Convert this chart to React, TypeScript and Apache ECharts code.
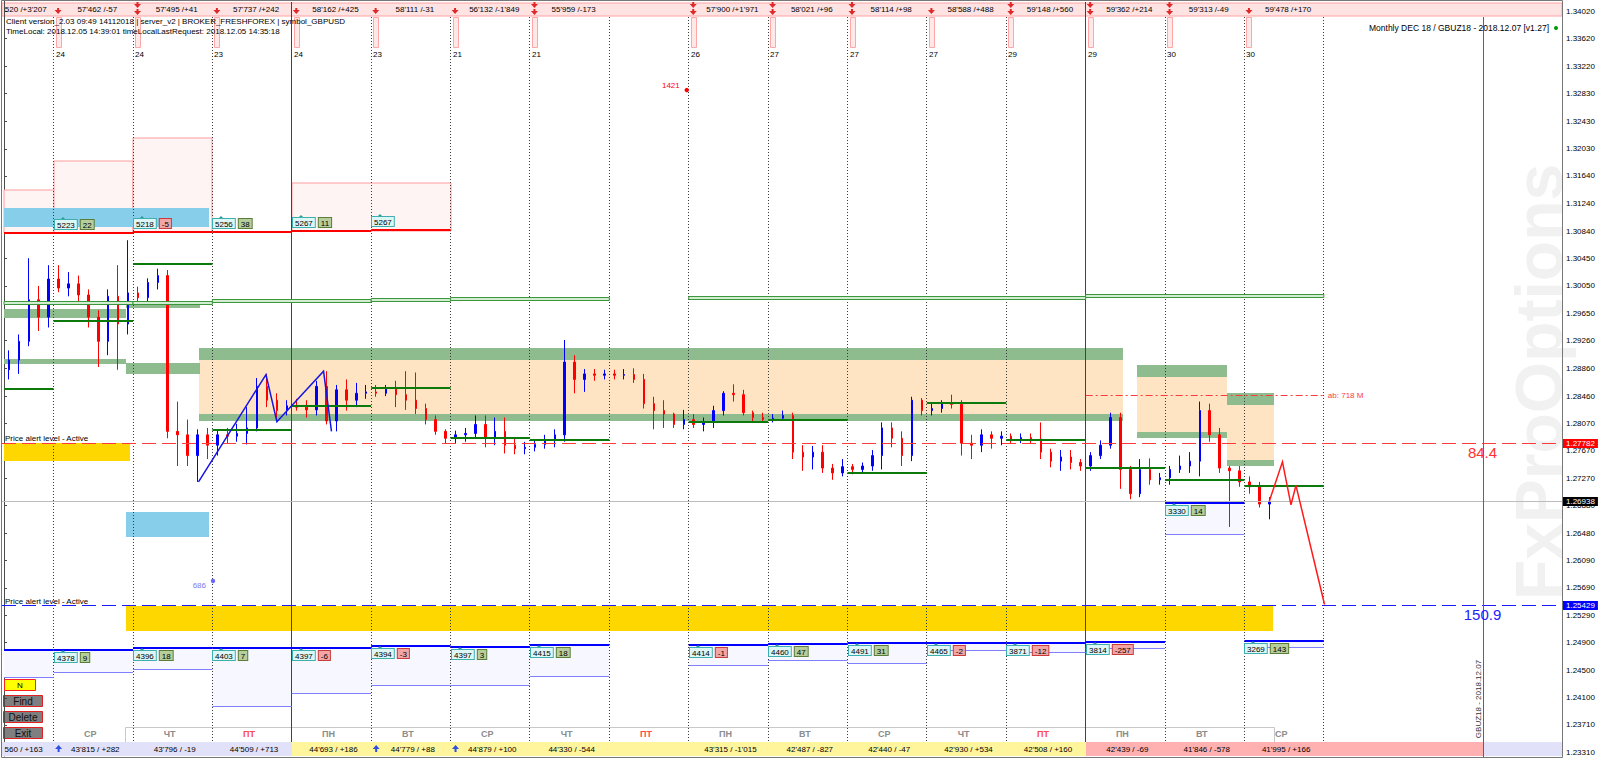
import React, { useEffect, useRef } from "react";
import * as echarts from "echarts";

const FONT = '"Liberation Sans", Arial, sans-serif';

// ---------- axes ----------
const SLOT_COUNT = 157; // 3-hour slots, 8 per trading day
const SLOTS_PER_DAY = 8;
const FIRST_SEPARATOR_SLOT = 5;
const SEPARATOR_COUNT = 17;
const PRICE_MIN = 1.23262;
const PRICE_MAX = 1.34165;

const priceTicks = [
  1.3402, 1.3362, 1.3322, 1.3283, 1.3243, 1.3203, 1.3164, 1.3124, 1.3084, 1.3045, 1.3005, 1.2965, 1.2926, 1.2886,
  1.2846, 1.2807, 1.2767, 1.2727, 1.2688, 1.2648, 1.2609, 1.2569, 1.2529, 1.249, 1.245, 1.241, 1.2371, 1.2331,
];

// ---------- candles: [open, close, low, high] per 3h slot ----------
const candles = [
  [1.2884, 1.2898, 1.287, 1.2912], [1.2898, 1.2925, 1.2878, 1.2935], [1.2925, 1.2985, 1.2918, 1.3045],
  [1.2985, 1.296, 1.294, 1.3005], [1.296, 1.3015, 1.2945, 1.3035], [1.3015, 1.3002, 1.2996, 1.3035],
  [1.3002, 1.3008, 1.299, 1.3025], [1.3008, 1.2992, 1.298, 1.302], [1.2992, 1.296, 1.2945, 1.3],
  [1.296, 1.2925, 1.2888, 1.297], [1.2925, 1.299, 1.2905, 1.3], [1.299, 1.295, 1.2884, 1.3035],
  [1.295, 1.2995, 1.2935, 1.3071], [1.2995, 1.2988, 1.298, 1.3004], [1.2988, 1.301, 1.2982, 1.3016],
  [1.301, 1.302, 1.3, 1.303], [1.302, 1.2795, 1.2785, 1.3028], [1.2795, 1.279, 1.2745, 1.2838],
  [1.279, 1.276, 1.2745, 1.2812], [1.276, 1.279, 1.2722, 1.2798], [1.279, 1.2775, 1.2755, 1.28],
  [1.2775, 1.279, 1.276, 1.2798], [1.279, 1.2788, 1.2778, 1.28], [1.2788, 1.2792, 1.278, 1.2806],
  [1.2792, 1.28, 1.2776, 1.283], [1.28, 1.286, 1.2795, 1.2872], [1.286, 1.284, 1.283, 1.2878],
  [1.284, 1.2825, 1.281, 1.285], [1.2825, 1.2832, 1.2818, 1.284], [1.2832, 1.283, 1.2825, 1.2842],
  [1.283, 1.2826, 1.2815, 1.284], [1.2826, 1.286, 1.2818, 1.2868], [1.286, 1.281, 1.2805, 1.2882],
  [1.281, 1.2855, 1.2795, 1.2862], [1.2855, 1.284, 1.2825, 1.287], [1.284, 1.285, 1.283, 1.2865],
  [1.285, 1.2852, 1.2842, 1.2862], [1.2852, 1.285, 1.2845, 1.2862], [1.285, 1.2856, 1.2846, 1.2862],
  [1.2856, 1.2848, 1.283, 1.2868], [1.2848, 1.284, 1.2826, 1.2882], [1.284, 1.2828, 1.282, 1.288],
  [1.2828, 1.2812, 1.2805, 1.2835], [1.2812, 1.2795, 1.279, 1.2818], [1.2795, 1.2785, 1.2778, 1.2798],
  [1.2785, 1.279, 1.2778, 1.2796], [1.279, 1.2792, 1.278, 1.28], [1.2792, 1.2805, 1.2785, 1.2818],
  [1.2805, 1.2785, 1.2772, 1.2818], [1.2785, 1.2795, 1.2775, 1.2815], [1.2795, 1.2775, 1.2763, 1.2815],
  [1.2775, 1.277, 1.2762, 1.2785], [1.277, 1.2772, 1.2762, 1.278], [1.2772, 1.2776, 1.2766, 1.2782],
  [1.2776, 1.2782, 1.277, 1.279], [1.2782, 1.279, 1.2772, 1.2798], [1.279, 1.2895, 1.278, 1.2927],
  [1.2895, 1.287, 1.285, 1.2905], [1.287, 1.2878, 1.2852, 1.2885], [1.2878, 1.2876, 1.2868, 1.2885],
  [1.2876, 1.2878, 1.287, 1.2884], [1.2878, 1.2876, 1.287, 1.2884], [1.2876, 1.2877, 1.287, 1.2885],
  [1.2877, 1.287, 1.2865, 1.2886], [1.287, 1.2835, 1.2828, 1.2878], [1.2835, 1.2825, 1.2798, 1.2845],
  [1.2825, 1.282, 1.28, 1.284], [1.282, 1.2805, 1.28, 1.2822], [1.2805, 1.2812, 1.2798, 1.2826],
  [1.2812, 1.2805, 1.28, 1.282], [1.2805, 1.2808, 1.2795, 1.2815], [1.2808, 1.2825, 1.28, 1.2832],
  [1.2825, 1.285, 1.2818, 1.2853], [1.285, 1.2848, 1.2838, 1.2863], [1.2848, 1.2822, 1.2818, 1.2855],
  [1.2822, 1.2815, 1.2808, 1.2825], [1.2815, 1.2812, 1.2808, 1.2822], [1.2812, 1.2814, 1.2808, 1.282],
  [1.2814, 1.2818, 1.281, 1.2825], [1.2818, 1.2765, 1.2755, 1.2822], [1.2765, 1.2758, 1.2738, 1.2775],
  [1.2758, 1.2765, 1.274, 1.2774], [1.2765, 1.2742, 1.2735, 1.2775], [1.2742, 1.2735, 1.2725, 1.2748],
  [1.2735, 1.2744, 1.273, 1.2755], [1.2744, 1.274, 1.2733, 1.2748], [1.274, 1.2745, 1.2735, 1.275],
  [1.2745, 1.276, 1.2738, 1.2768], [1.276, 1.28, 1.274, 1.2808], [1.28, 1.2785, 1.2772, 1.2808],
  [1.2785, 1.276, 1.2745, 1.2795], [1.276, 1.284, 1.2752, 1.2845], [1.284, 1.2825, 1.2818, 1.2843],
  [1.2825, 1.2828, 1.2818, 1.2835], [1.2828, 1.2836, 1.2822, 1.284], [1.2836, 1.2834, 1.2828, 1.2848],
  [1.2834, 1.2778, 1.276, 1.284], [1.2778, 1.2775, 1.2755, 1.279], [1.2775, 1.279, 1.2765, 1.2798],
  [1.279, 1.2785, 1.277, 1.2795], [1.2785, 1.2788, 1.2775, 1.2795], [1.2788, 1.2783, 1.2778, 1.2792],
  [1.2783, 1.2786, 1.2778, 1.2792], [1.2786, 1.2784, 1.2778, 1.2792], [1.2784, 1.2765, 1.2755, 1.2808],
  [1.2765, 1.2752, 1.2743, 1.277], [1.2752, 1.2758, 1.2738, 1.2768], [1.2758, 1.275, 1.274, 1.2768],
  [1.275, 1.2745, 1.2738, 1.2755], [1.2745, 1.276, 1.2738, 1.2765], [1.276, 1.2775, 1.2755, 1.2782],
  [1.2775, 1.2815, 1.277, 1.2822], [1.2815, 1.274, 1.2712, 1.2822], [1.274, 1.2705, 1.2697, 1.2745],
  [1.2705, 1.274, 1.27, 1.2755], [1.274, 1.2725, 1.2718, 1.2756], [1.2725, 1.2728, 1.2718, 1.2735],
  [1.2728, 1.274, 1.2718, 1.2745], [1.274, 1.2745, 1.2735, 1.276], [1.2745, 1.2752, 1.2735, 1.2765],
  [1.2752, 1.2825, 1.273, 1.2838], [1.2825, 1.279, 1.278, 1.2835], [1.279, 1.2742, 1.2735, 1.28],
  [1.2742, 1.2738, 1.2657, 1.2745], [1.2738, 1.2722, 1.2715, 1.2745], [1.2722, 1.2715, 1.2705, 1.273],
  [1.2715, 1.269, 1.2685, 1.2722], [1.269, 1.26938, 1.2668, 1.27],
];

// ---------- day annotations (index 0 = partial day before first separator) ----------
const weekdays = ["СР", "ЧТ", "ПТ", "ПН", "ВТ", "СР", "ЧТ", "ПТ", "ПН", "ВТ", "СР", "ЧТ", "ПТ", "ПН", "ВТ", "СР"];
const topDayStats = [
  "520 /+3'207", "57'462 /-57", "57'495 /+41", "57'737 /+242", "58'162 /+425", "58'111 /-31", "56'132 /-1'849",
  "55'959 /-173", "", "57'900 /+1'971", "58'021 /+96", "58'114 /+98", "58'588 /+488", "59'148 /+560",
  "59'362 /+214", "59'313 /-49", "59'478 /+170",
];
const bottomDayStats = [
  "560 / +163", "43'815 / +282", "43'796 / -19", "44'509 / +713", "44'693 / +186", "44'779 / +88",
  "44'879 / +100", "44'330 / -544", "", "43'315 / -1'015", "42'487 / -827", "42'440 / -47", "42'930 / +534",
  "42'508 / +160", "42'439 / -69", "41'846 / -578", "41'995 / +166",
];
const dayCounters = ["24", "24", "23", "24", "23", "21", "21", "", "26", "27", "27", "27", "29", "29", "30", "30"];
const topMarkerCounts = [1, 2, 1, 1, 1, 1, 2, 0, 2, 2, 2, 1, 2, 2, 2, 1];
const bottomMarkerDays = [0, 4, 5];
const weekStartSeparators = [3, 13];

// ---------- levels: [fromSlot, toSlot, price] ----------
const supportLevels = [
  [0, 5, 1.28562], [5, 13, 1.29544], [13, 21, 1.30367], [21, 29, 1.2797], [29, 37, 1.28317], [37, 45, 1.28576],
  [45, 53, 1.27854], [53, 61, 1.27825], [69, 77, 1.28085], [77, 85, 1.28114], [85, 93, 1.27349],
  [93, 101, 1.2836], [101, 109, 1.27825], [109, 117, 1.27421], [117, 125, 1.27248], [125, 133, 1.27161],
];
const pivotBands = [
  [0, 13, 1.29808], [13, 21, 1.29818], [21, 37, 1.29837], [37, 45, 1.29857], [45, 61, 1.29869],
  [69, 109, 1.2989], [109, 133, 1.29919],
];
const resistanceLevels = [[0, 13, 1.3081], [13, 21, 1.30825], [21, 29, 1.30833], [29, 37, 1.30848], [37, 45, 1.30858]];
// [fromSlot, toSlot, topPrice, bottomPrice]
const resistanceBoxes = [
  [0, 5, 1.31435, 1.3081], [5, 13, 1.31854, 1.3081], [13, 21, 1.32186, 1.30825], [29, 45, 1.31537, 1.30848],
];
const resistanceTagA = ["5223", "5218", "5256", "5267", "5267"];
const resistanceTagB = ["22", "-5", "38", "11", ""];

const zoneBodies = [
  [19.65, 112.76, 1.28981, 1.28201], [114.17, 123.24, 1.28735, 1.27941], [123.24, 127.93, 1.28331, 1.27537],
];
const zoneEdges = [
  [19.65, 112.76, 1.29154, 1.28981], [19.65, 112.76, 1.28201, 1.281],
  [114.17, 123.24, 1.28908, 1.28735], [114.17, 123.24, 1.27941, 1.27854],
  [123.24, 127.93, 1.28504, 1.28331], [123.24, 127.93, 1.27537, 1.2745],
  [0, 12.29, 1.29717, 1.29587], [12.29, 19.75, 1.29804, 1.29731],
  [0, 12.29, 1.28995, 1.28923], [12.29, 19.75, 1.28937, 1.28778],
];
const skyBoxes = [[0, 20.66, 1.31176, 1.30901], [12.29, 20.66, 1.26786, 1.26425]];
const goldBoxes = [[0, 12.7, 1.27782, 1.27522], [12.29, 127.9, 1.25429, 1.2507]];

// volume blocks per day (index 0 = partial day)
const volumeTop = [1.24793, 1.24793, 1.24822, 1.24826, 1.24826, 1.24851, 1.24832, 1.24865, null, 1.24865, 1.2488, 1.2489, 1.24898, 1.24898, 1.24908, 1.2692, 1.24923];
const volumeBottom = [1.24389, 1.24461, 1.24518, 1.2397, 1.24158, 1.24287, 1.24273, 1.24403, null, 1.24562, 1.24648, 1.24605, 1.24783, 1.2475, 1.24808, 1.26454, 1.24826];
const volumeTagA = [null, "4378", "4396", "4403", "4397", "4394", "4397", "4415", null, "4414", "4460", "4491", "4465", "3871", "3814", "3330", "3269"];
const volumeTagB = [null, "9", "18", "7", "-6", "-3", "3", "18", null, "-1", "47", "31", "-2", "-12", "-257", "14", "143"];

const zigzagPoints = [[19.6, 1.2722], [26.4, 1.2877], [27.5, 1.2809], [32.2, 1.2882], [33.0, 1.2795]];
const projectionPoints = [[127.5, 1.26938], [128.83, 1.2751], [129.69, 1.2689], [130.19, 1.2717], [133.07, 1.2545]];
const abLevel = [109, 133, 1.28465];
const alertHigh = 1.27782;
const alertLow = 1.25429;
const bidPrice = 1.26938;
const expirySlot = 149.1;
const mark1421 = [68.8, 1.32879];
const mark686 = [21.06, 1.25789];
const bottomBarSegments = [[0, 29], [29, 109], [109, 149.1], [149.1, 157]];

// ---------- helpers ----------
const sepSlot = (k: number) => FIRST_SEPARATOR_SLOT + SLOTS_PER_DAY * k;
const dayRange = (i: number) => [Math.max(0, sepSlot(i - 1)), sepSlot(i)]; // i = index into per-day arrays

const TAG = {
  cyan: ["#DDF6F6", "#3FAEAE"],
  green: ["#B7CE9C", "#5A7D3A"],
  red: ["#F3A5A5", "#C63C3C"],
};

function txt(x: number, y: number, text: string, o: any = {}) {
  const align = o.align || "left";
  const va = o.va || "middle";
  return {
    type: "text",
    x,
    y,
    rotation: o.rotation || 0,
    z2: o.z2 || 10,
    style: {
      text,
      font: o.font || `8px ${FONT}`,
      fill: o.fill || "#000",
      align,
      verticalAlign: va,
      textAlign: align,
      textVerticalAlign: va,
      backgroundColor: o.bg,
      borderColor: o.bd,
      borderWidth: o.bd ? 1 : 0,
      padding: o.padding,
    },
  };
}

function buildOption() {
  const background = {
    type: "custom",
    xAxisIndex: 1,
    yAxisIndex: 0,
    z: 1,
    silent: true,
    clip: false,
    data: [[0, 1.3]],
    renderItem: (_p: any, api: any) => {
      const P = (s: number, p: number) => api.coord([s, p]);
      const box = (s1: number, s2: number, p1: number, p2: number, style: any) => {
        const a = P(s1, p1);
        const b = P(s2, p2);
        const x = Math.round(a[0]);
        const y = Math.round(a[1]);
        return { type: "rect", shape: { x, y, width: Math.round(b[0]) - x, height: Math.round(b[1]) - y }, style };
      };
      const ch: any[] = [];
      resistanceBoxes.forEach(([s1, s2, t, b]) =>
        ch.push(box(s1, s2, t, b, { fill: "#FFF4F4", stroke: "#FF9C9C", lineWidth: 1 }))
      );
      skyBoxes.forEach(([s1, s2, t, b]) => ch.push(box(s1, s2, t, b, { fill: "#87CEEB" })));
      zoneBodies.forEach(([s1, s2, t, b]) => ch.push(box(s1, s2, t, b, { fill: "#FFE4C4" })));
      zoneEdges.forEach(([s1, s2, t, b]) => ch.push(box(s1, s2, t, b, { fill: "#8FBC8F" })));
      goldBoxes.forEach(([s1, s2, t, b]) => ch.push(box(s1, s2, t, b, { fill: "#FFD700" })));
      volumeTop.forEach((t, i) => {
        if (t == null) return;
        const [s1, s2] = dayRange(i);
        ch.push(box(s1, s2, t, volumeBottom[i] as number, { fill: "#F7F7FF" }));
      });
      // bottom status bar
      const barColors = ["#E1E1F9", "#FFF59D", "#FFB0B0", "#E1E1F9"];
      bottomBarSegments.forEach(([s1, s2], i) => {
        const x1 = i === 0 ? 2 : Math.round(P(s1, 1.3)[0]);
        const x2 = Math.round(P(s2, 1.3)[0]);
        ch.push({ type: "rect", shape: { x: x1, y: 742, width: x2 - x1, height: 14 }, style: { fill: barColors[i] } });
      });
      return { type: "group", children: ch };
    },
  };

  const foreground = {
    type: "custom",
    xAxisIndex: 1,
    yAxisIndex: 0,
    z: 3,
    silent: true,
    clip: false,
    data: [[0, 1.3]],
    renderItem: (_p: any, api: any) => {
      const P = (s: number, p: number) => api.coord([s, p]);
      const X = (s: number) => api.coord([s, 1.3])[0];
      const Y = (p: number) => api.coord([0, p])[1];
      const c1 = (v: number) => Math.round(v - 0.5) + 0.5;
      const ch: any[] = [];
      const line = (x1: number, y1: number, x2: number, y2: number, stroke: string, lw = 1, dash?: number[]) =>
        ch.push({ type: "line", shape: { x1, y1, x2, y2 }, style: { stroke, lineWidth: lw, lineDash: dash } });
      const tag = (x: number, y: number, t: string, kind: "cyan" | "green" | "red") => {
        const [bg, bd] = TAG[kind];
        ch.push(txt(x, y, t, { va: "top", bg, bd, padding: [1, 2, 0, 2] }));
        return t.length * 4.45 + 6;
      };
      const tagPair = (x: number, y: number, a: string, b: string) => {
        ch.push({ type: "polygon", shape: { points: [[x + 5, y], [x + 8, y - 3], [x + 11, y]] }, style: { fill: "#2A9A9A" } });
        const w = tag(x, y, a, "cyan");
        if (b) tag(x + w + 2, y, b, b.startsWith("-") ? "red" : "green");
      };

      // day separators
      for (let k = 0; k < SEPARATOR_COUNT; k++) {
        const x = c1(X(sepSlot(k)));
        if (weekStartSeparators.includes(k)) line(x, 2, x, 742, "#2B2BFF", 1);
        else line(x, 17, x, 742, "#3A3A3A", 1, [1, 2]);
      }

      // pivot double bands
      pivotBands.forEach(([s1, s2, p]) => {
        const y = c1(Y(p));
        ch.push({ type: "rect", shape: { x: X(s1), y: y - 1, width: X(s2) - X(s1), height: 3 }, style: { fill: "#D2EDD2", stroke: "#3C963C", lineWidth: 1 } });
      });
      // support levels
      supportLevels.forEach(([s1, s2, p]) => {
        const y = Math.round(Y(p));
        line(X(s1), y, X(s2), y, "#0B7A0B", 2);
      });
      // resistance line + tags
      resistanceLevels.forEach(([s1, s2, p]) => {
        const y = Math.round(Y(p));
        line(X(s1), y, X(s2), y, "#FF0000", 2);
      });
      resistanceTagA.forEach((a, k) => {
        const x = Math.round(X(sepSlot(k))) + 1;
        const y = Math.round(Y(resistanceLevels.find((r) => sepSlot(k) >= r[0] && sepSlot(k) < r[1])![2])) - 13;
        tagPair(x, y, a, resistanceTagB[k]);
      });

      // volume blocks
      volumeTop.forEach((t, i) => {
        if (t == null) return;
        const [s1, s2] = dayRange(i);
        const yT = Math.round(Y(t));
        const yB = c1(Y(volumeBottom[i] as number));
        line(X(s1), yT, X(s2), yT, "#0000FF", 2);
        line(X(s1), yB, X(s2), yB, "#8080FF", 1);
        const a = volumeTagA[i];
        if (a) tagPair(Math.round(X(s1)) + 1, yT + 3, a, volumeTagB[i] as string);
      });

      // alert levels and bid line with price tags on the axis
      const right = X(SLOT_COUNT);
      const levelLine = (price: number, color: string, tagBg: string, dash?: number[]) => {
        const y = c1(Y(price));
        line(2, y, right, y, color, 1, dash);
        ch.push(txt(right + 1, y, price.toFixed(5), { bg: tagBg, fill: "#FFFFFF", padding: [1, 3, 0, 3], z2: 20 }));
      };
      levelLine(bidPrice, "#BDBDBD", "#000000");
      levelLine(alertHigh, "#FF3A3A", "#FF0000", [14, 6]);
      levelLine(alertLow, "#1A1AFF", "#0000FF", [14, 6]);

      // zigzag & projection
      ch.push({ type: "polyline", shape: { points: zigzagPoints.map(([s, p]) => P(s, p)) }, style: { stroke: "#1414E6", lineWidth: 1.5, fill: null } });
      ch.push({ type: "polyline", shape: { points: projectionPoints.map(([s, p]) => P(s, p)) }, style: { stroke: "#FF1A1A", lineWidth: 1.5, fill: null } });

      // ab level
      {
        const y = c1(Y(abLevel[2]));
        line(X(abLevel[0]), y, X(abLevel[1]), y, "#FF3A3A", 1, [7, 3, 2, 3]);
        ch.push(txt(X(abLevel[1]) + 4, y, "ab: 718 M", { fill: "#FF3A3A" }));
      }

      // info marks
      {
        const [x1, y1] = P(mark1421[0], mark1421[1]);
        ch.push({ type: "circle", shape: { cx: x1, cy: y1, r: 2.2 }, style: { fill: "#FF0000" } });
        ch.push(txt(x1 - 7, y1 - 5, "1421", { align: "right", fill: "#FF0000" }));
        const [x2, y2] = P(mark686[0], mark686[1]);
        ch.push({ type: "circle", shape: { cx: x2, cy: y2, r: 2.2 }, style: { fill: "#6A6AFF" } });
        ch.push(txt(x2 - 7, y2 + 4, "686", { align: "right", fill: "#7A7AEE" }));
      }

      // alert labels
      ch.push(txt(5, Math.round(Y(alertHigh)) - 1, "Price alert level - Active", { va: "bottom" }));
      ch.push(txt(5, Math.round(Y(alertLow)) - 1, "Price alert level - Active", { va: "bottom" }));

      // expiry line
      {
        const x = c1(X(expirySlot));
        line(x, 17, x, 757, "#FF2020", 1);
        ch.push(txt(x - 1, Math.round(Y(alertHigh)) + 2, "84.4", { align: "center", va: "top", fill: "#FF3030", font: `15px ${FONT}` }));
        ch.push(txt(x - 1, Math.round(Y(alertLow)) + 1, "150.9", { align: "center", va: "top", fill: "#1E1EFF", font: `15px ${FONT}` }));
      }

      // top bar contents
      topDayStats.forEach((t, i) => {
        if (!t) return;
        if (i === 0) ch.push(txt(X(sepSlot(0)) - 7, 9.5, t, { align: "right" }));
        else ch.push(txt(X(sepSlot(i - 1) + SLOTS_PER_DAY / 2) + 4, 9.5, t, { align: "center" }));
      });
      topMarkerCounts.forEach((n, k) => {
        const x = X(sepSlot(k)) + 4.5;
        const ys = n === 2 ? [6, 13] : n === 1 ? [12] : [];
        ys.forEach((y) =>
          ch.push({ type: "polygon", shape: { points: [[x - 1, y - 4], [x + 1, y - 4], [x + 1, y - 2], [x + 3.5, y - 2], [x, y + 2], [x - 3.5, y - 2], [x - 1, y - 2]] }, style: { fill: "#E02828" } })
        );
      });
      dayCounters.forEach((t, k) => {
        if (!t) return;
        const x = Math.round(X(sepSlot(k)));
        ch.push({ type: "rect", shape: { x: x + 2.5, y: 17.5, width: 5, height: 30 }, style: { fill: "#FFE8E8", stroke: "#FFA6A6", lineWidth: 1 } });
        ch.push(txt(x + 2, 54, t));
      });

      // weekday row + bottom bar texts
      weekdays.forEach((w, k) => {
        ch.push(txt(X(sepSlot(k) + SLOTS_PER_DAY / 2) - 3, 734, w, { align: "center", fill: w === "ПТ" ? "#FF4A4A" : "#8C8C8C", font: `bold 9px ${FONT}` }));
      });
      bottomDayStats.forEach((t, i) => {
        if (!t) return;
        if (i === 0) ch.push(txt(X(sepSlot(0)) - 11, 749.5, t, { align: "right" }));
        else ch.push(txt(X(sepSlot(i - 1) + SLOTS_PER_DAY / 2) + 2, 749.5, t, { align: "center" }));
      });
      bottomMarkerDays.forEach((k) => {
        const x = X(sepSlot(k)) + 5;
        ch.push({ type: "polygon", shape: { points: [[x - 3.5, 749], [x, 745], [x + 3.5, 749], [x + 1, 749], [x + 1, 752], [x - 1, 752], [x - 1, 749]] }, style: { fill: "#2F4FE0" } });
      });
      return { type: "group", children: ch };
    },
  };

  return {
    animation: false,
    backgroundColor: "#FFFFFF",
    grid: { left: 4, right: 38, top: 1, bottom: 3, containLabel: false },
    xAxis: [
      { type: "category", data: Array.from({ length: SLOT_COUNT }, (_, i) => String(i)), boundaryGap: true, show: false },
      { type: "value", min: 0, max: SLOT_COUNT, show: false },
    ],
    yAxis: {
      type: "value",
      position: "right",
      min: PRICE_MIN,
      max: PRICE_MAX,
      axisLine: { show: true, lineStyle: { color: "#4A4A4A", width: 1 } },
      axisTick: { show: true, customValues: priceTicks, length: 3, lineStyle: { color: "#4A4A4A" } },
      axisLabel: {
        customValues: priceTicks,
        formatter: (v: number) => v.toFixed(5),
        fontSize: 8,
        fontFamily: FONT,
        color: "#000",
        margin: 4,
      },
      splitLine: { show: false },
    },
    graphic: {
      elements: [
        { type: "text", z: 0, x: 1539, y: 382, rotation: Math.PI / 2, style: { text: "FxProOptions", font: `bold 66px ${FONT}`, fill: "#F1F1F1", align: "center", verticalAlign: "middle", textAlign: "center", textVerticalAlign: "middle" } },
        { type: "rect", z: 0, shape: { x: 2, y: 3, width: 1560, height: 13 }, style: { fill: "#FFE3E3", stroke: "#FFA2A2", lineWidth: 1 } },
        { type: "polyline", z: 0, shape: { points: [[125.5, 742], [125.5, 727.5], [1274.5, 727.5], [1274.5, 742]] }, style: { stroke: "#C8C8C8", fill: null, lineWidth: 1 } },
        { type: "rect", z: 20, shape: { x: 1.5, y: 0.5, width: 1561, height: 757 }, style: { fill: null, stroke: "#777777", lineWidth: 1 } },
        { type: "text", z: 20, x: 6, y: 21, style: { text: "Client version_2.03 09:49 14112018 | server_v2 | BROKER_FRESHFOREX | symbol_GBPUSD", font: `8px ${FONT}`, fill: "#000", verticalAlign: "middle", textVerticalAlign: "middle" } },
        { type: "text", z: 20, x: 6, y: 31, style: { text: "TimeLocal: 2018.12.05 14:39:01 timeLocalLastRequest: 2018.12.05 14:35:18", font: `8px ${FONT}`, fill: "#000", verticalAlign: "middle", textVerticalAlign: "middle" } },
        { type: "text", z: 20, x: 1549, y: 28, style: { text: "Monthly DEC 18 / GBUZ18 - 2018.12.07 [v1.27]", font: `8.5px ${FONT}`, fill: "#000", align: "right", textAlign: "right", verticalAlign: "middle", textVerticalAlign: "middle" } },
        { type: "circle", z: 20, shape: { cx: 1556, cy: 28, r: 2 }, style: { fill: "#009A00" } },
        { type: "text", z: 20, x: 1478, y: 699, rotation: Math.PI / 2, style: { text: "GBUZ18 - 2018.12.07", font: `8px ${FONT}`, fill: "#333", align: "center", textAlign: "center", verticalAlign: "middle", textVerticalAlign: "middle" } },
        { type: "rect", z: 20, shape: { x: 4.5, y: 679.5, width: 31, height: 11 }, style: { fill: "#FFFF00", stroke: "#FF2020", lineWidth: 1 } },
        { type: "text", z: 21, x: 20, y: 685, style: { text: "N", font: `8px ${FONT}`, fill: "#000", align: "center", textAlign: "center", verticalAlign: "middle", textVerticalAlign: "middle" } },
        ...["Find", "Delete", "Exit"].map((t, i) => ({
          type: "group",
          z: 20,
          children: [
            { type: "rect", shape: { x: 3.5, y: 695.5 + i * 16, width: 39, height: 11 }, style: { fill: "#7F7F7F", stroke: "#E02020", lineWidth: 1 } },
            { type: "text", x: 23, y: 701 + i * 16, style: { text: t, font: `10px ${FONT}`, fill: "#111", align: "center", textAlign: "center", verticalAlign: "middle", textVerticalAlign: "middle" } },
          ],
        })),
      ],
    },
    series: [
      background,
      {
        type: "candlestick",
        xAxisIndex: 0,
        yAxisIndex: 0,
        z: 2,
        barWidth: 2,
        silent: true,
        data: candles,
        itemStyle: { color: "#0000FF", color0: "#FF0000", borderColor: "#0000FF", borderColor0: "#FF0000", borderWidth: 1 },
      },
      foreground,
    ],
  };
}

export default function App() {
  const ref = useRef<HTMLDivElement>(null);
  useEffect(() => {
    const chart = echarts.init(ref.current!, null, { renderer: "svg" });
    chart.setOption(buildOption() as any);
    return () => chart.dispose();
  }, []);
  return (
    <div
      ref={ref}
      style={{ position: "fixed", left: 0, top: 0, width: 1600, height: 759, background: "#FFFFFF" }}
    />
  );
}
